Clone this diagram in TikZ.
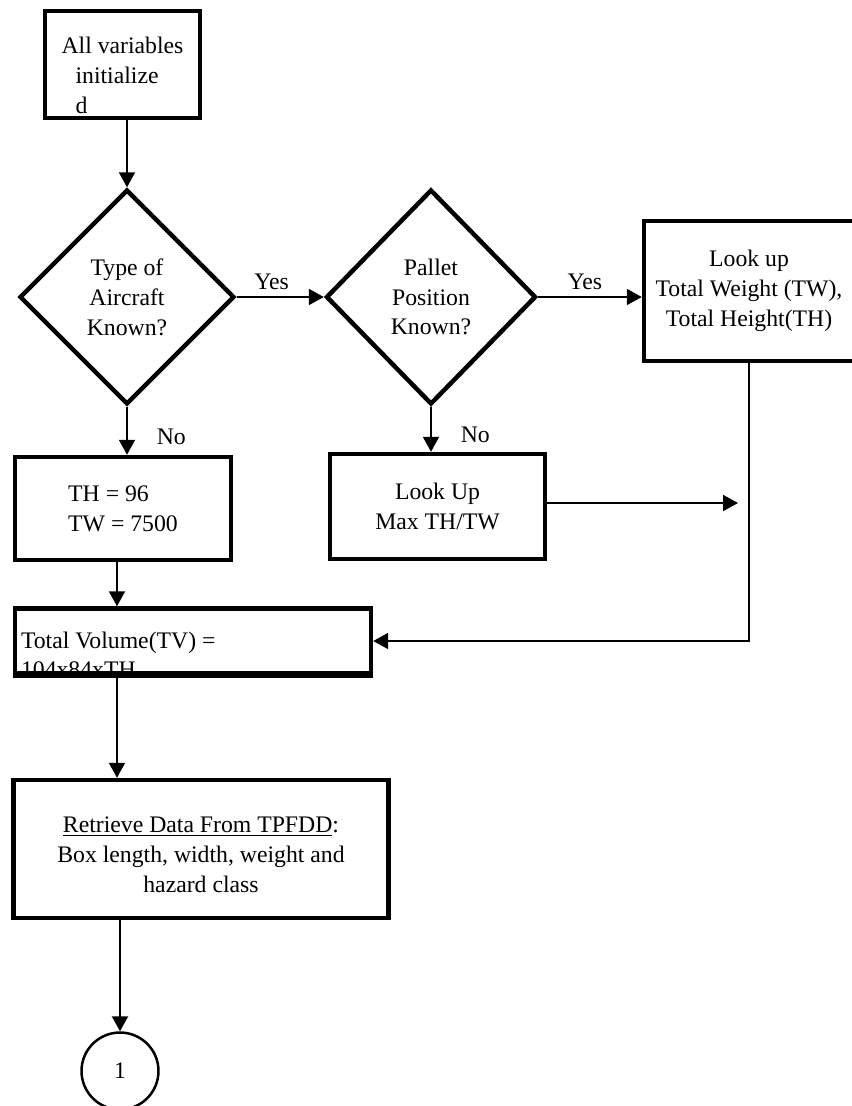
\documentclass[tikz,border=0pt]{standalone}
\usepackage{fontspec}
\setmainfont{Liberation Serif}
\usetikzlibrary{positioning,arrows.meta,shapes.geometric}

\begin{document}
\begin{tikzpicture}[x=0.02cm,y=-0.02cm,
  every node/.style={font=\fontsize{13.5}{17}\selectfont},
  procbox/.style={draw,line width=0.09cm,shape=rectangle,inner sep=0pt},
  decision/.style={draw,line width=0.09cm,shape=diamond,inner sep=0pt,align=center},
  flow/.style={line width=0.04cm,-{Triangle[length=0.3cm,width=0.32cm]}}]
\useasboundingbox (0,0) rectangle (852,1106);

\node[procbox,minimum width=3.1cm,minimum height=2.14cm,align=left,
  text height=1.96cm,text depth=0pt] (init) at (122.5,64.5)
  {All variables\\\hspace*{0.28cm}initialize\\\hspace*{0.28cm}d};
\node[decision,minimum width=4.3cm,minimum height=4.3cm] (known) at (127,297) {Type of\\Aircraft\\Known?};
\node[decision,minimum width=4.2cm,minimum height=4.3cm] (pallet) at (431,297) {Pallet\\Position\\Known?};
\node[procbox,minimum width=4.2cm,minimum height=2.8cm,align=center] (lookup) at (749,291)
  {Look up\\Total Weight (TW),\\Total Height(TH)};
\node[procbox,minimum width=4.32cm,minimum height=2.06cm,align=left] (thval) at (123,508.5)
  {TH = 96\\TW = 7500};
\node[procbox,minimum width=4.3cm,minimum height=2.1cm,align=center] (maxth) at (437.5,506.5)
  {Look Up\\Max TH/TW};
\node[procbox,minimum width=7.12cm,minimum height=1.3cm,text width=6.88cm,align=flush left,
  text height=0.28cm,text depth=0pt] (tv) at (193,641) {Total Volume(TV) =\\104x84xTH};
\node[procbox,minimum width=7.5cm,minimum height=2.76cm,align=center,
  text height=1.72cm,text depth=0pt] (retr) at (201,849)
  {\underline{Retrieve Data From TPFDD}:\\Box length, width, weight and\\hazard class};
\node[draw,shape=circle,line width=0.05cm,minimum size=1.54cm,inner sep=0pt] (conn) at (120,1071) {1};

\coordinate (spine) at (117,0);
\coordinate (tipA) at (738,503);

\draw[flow] (init.south -| known.north) -- (known.north);
\draw[flow] (known.east) -- (pallet.west) node[pos=0.4,above] {Yes};
\draw[flow] (pallet.east) -- (pallet.east -| lookup.west) node[pos=0.45,above] {Yes};
\draw[flow] (known.south) -- (known.south |- thval.north) node[pos=0.62,right,xshift=0.46cm] {No};
\draw[flow] (pallet.south) -- (pallet.south |- maxth.north) node[pos=0.62,right,xshift=0.46cm] {No};
\draw[flow] (maxth.east |- tipA) -- (tipA);
\draw[flow] (lookup.south) |- (tv.east);
\draw[flow] (spine |- thval.south) -- (spine |- tv.north);
\draw[flow] (spine |- tv.south) -- (spine |- retr.north);
\draw[flow] (retr.south -| conn.north) -- (conn.north);
\draw[line width=0.09cm] (tv.south west) -- (tv.south east);
\end{tikzpicture}
\end{document}
